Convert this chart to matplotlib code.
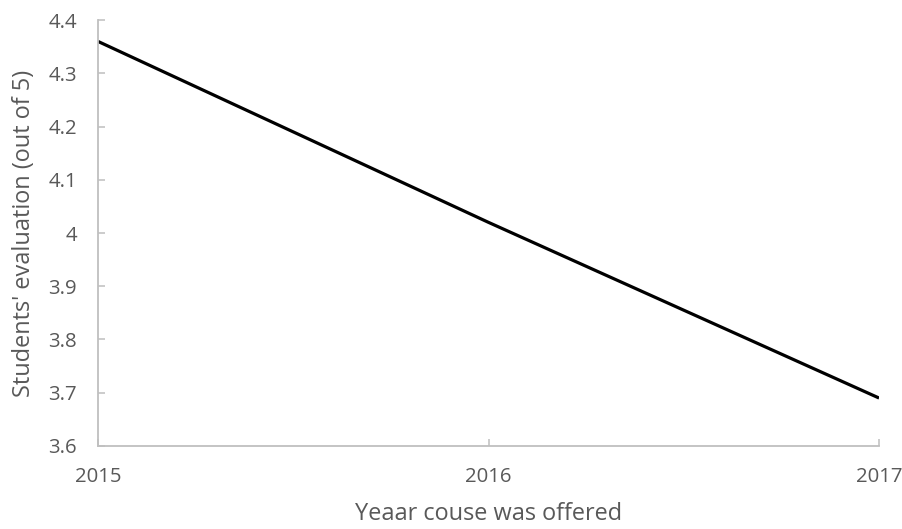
import matplotlib.pyplot as plt

# course evaluation by year
years = [2015, 2016, 2017]
scores = [4.36, 4.02, 3.69]

year_ticks = [2015, 2016, 2017]
score_ticks = [3.6, 3.7, 3.8, 3.9, 4.0, 4.1, 4.2, 4.3, 4.4]
score_labels = ["3.6", "3.7", "3.8", "3.9", "4", "4.1", "4.2", "4.3", "4.4"]

plt.rcParams['font.family'] = ['Open Sans', 'DejaVu Sans']
text_grey = "#595959"
axis_grey = "#BFBFBF"

fig = plt.figure(figsize=(9.03, 5.29), dpi=100)
ax = fig.add_axes([0.1085, 0.157, 0.865, 0.805])

ax.plot(years, scores, color="black", linewidth=2.3, solid_capstyle="butt")

ax.set_xlim(2015, 2017)
ax.set_ylim(3.6, 4.4)
ax.set_xticks(year_ticks)
ax.set_xticklabels([str(y) for y in year_ticks])
ax.set_yticks(score_ticks)
ax.set_yticklabels(score_labels)

for side in ["top", "right"]:
    ax.spines[side].set_visible(False)
for side in ["left", "bottom"]:
    ax.spines[side].set_color(axis_grey)
    ax.spines[side].set_linewidth(1.3)

ax.tick_params(axis="both", direction="in", length=5, width=1.1,
               color=axis_grey, labelcolor=text_grey, labelsize=14.7)
ax.tick_params(axis="x", pad=15)
ax.tick_params(axis="y", pad=15)

ax.set_xlabel("Yeaar couse was offered", color=text_grey, fontsize=16.9, labelpad=11)
ax.set_ylabel("Students' evaluation (out of 5)", color=text_grey, fontsize=16.9, labelpad=9)

fig.savefig("out.png", dpi=100)
